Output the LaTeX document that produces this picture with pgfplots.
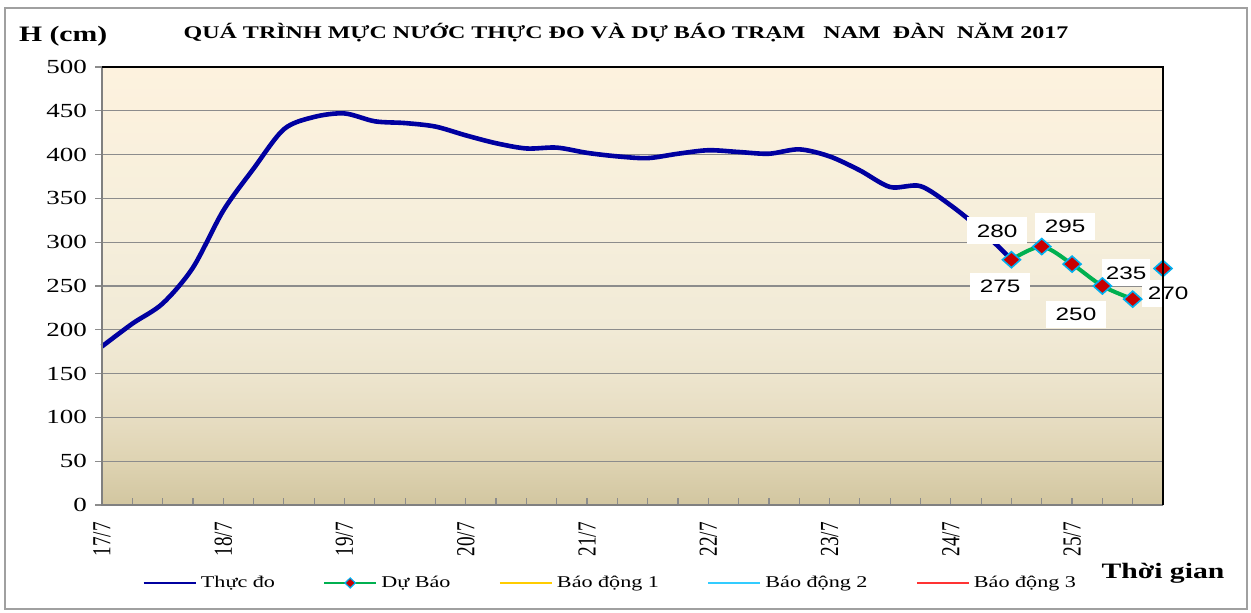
\documentclass[border=0pt]{standalone}
\usepackage{pgfplots}
\pgfplotsset{compat=1.18}
\usepackage{pgfplotstable}
\usepackage{fontspec}
\setmainfont[FakeStretch=1.35]{Liberation Serif}
\newfontfamily\arialfont[FakeStretch=1.35]{Liberation Sans}
\newfontfamily\rotfont[FakeStretch=0.74]{Liberation Serif}
\definecolor{obsblue}{RGB}{0,0,160}
\definecolor{fcgreen}{RGB}{0,176,80}
\definecolor{mred}{RGB}{200,0,0}
\definecolor{mcyan}{RGB}{0,176,240}
\definecolor{bd1}{RGB}{255,204,0}
\definecolor{bd2}{RGB}{51,204,255}
\definecolor{bd3}{RGB}{255,51,51}
\definecolor{gridgray}{RGB}{140,140,140}
\definecolor{axgray}{RGB}{128,128,128}
\definecolor{framegray}{RGB}{160,160,160}
\definecolor{bgA}{RGB}{210,198,160}
\definecolor{bgB}{RGB}{222,211,178}
\definecolor{bgC}{RGB}{231,221,194}
\definecolor{bgD}{RGB}{237,229,206}
\definecolor{bgE}{RGB}{241,234,214}
\definecolor{bgF}{RGB}{245,238,219}
\definecolor{bgG}{RGB}{253,242,222}
\pgfdeclareverticalshading{bgshade}{100bp}{color(0bp)=(bgA); color(25bp)=(bgA); color(30bp)=(bgB); color(35bp)=(bgC); color(40bp)=(bgD); color(45bp)=(bgE); color(55bp)=(bgF); color(75bp)=(bgG); color(100bp)=(bgG)}

\pgfplotstableread{
x y
0 181
1 207
2 230
3 271
4 336
5 384
6 429
7 443
8 447
9 438
10 436
11 432
12 422
13 413
14 407
15 408
16 402
17 398
18 396
19 401
20 405
21 403
22 401
23 406
24 398
25 382
26 363
27 364
28 342
29 314
30 280
}\obsdata

\pgfplotstableread{
x y
30 280
31 295
32 275
33 250
34 235
}\fcdata

\begin{document}
\begin{tikzpicture}
\path[use as bounding box] (0,0) rectangle (625.5pt,306pt);
\draw[framegray, line width=0.6pt] (2.5pt,1.5pt) rectangle (623.5pt,302pt);
\node[anchor=west, font=\bfseries\fontsize{11}{13}\selectfont] at (6pt,288pt) {H (cm)};
\node[font=\bfseries\fontsize{8.9}{11}\selectfont] at (313pt,289.5pt) {QUÁ TRÌNH MỰC NƯỚC THỰC ĐO VÀ DỰ BÁO TRẠM\ \ \ NAM\ \ ĐÀN\ \ NĂM 2017};
\node[font=\bfseries\fontsize{11}{13}\selectfont] at (581.5pt,19.5pt) {Thời gian};
\begin{axis}[
  at={(51pt,53.5pt)}, anchor=south west,
  scale only axis, width=530.5pt, height=219pt,
  xmin=0, xmax=35, ymin=0, ymax=500,
  clip=false,
  axis background/.style={shading=bgshade},
  axis line style={draw=none},
  ytick={0,50,...,500},
  xtick={0,4,...,32},
  xticklabels={17/7,18/7,19/7,20/7,21/7,22/7,23/7,24/7,25/7},
  minor xtick={0,1,...,35},
  xtick pos=bottom, ytick pos=left,
  tick align=inside,
  major tick length=3.5pt, minor tick length=3.5pt,
  ytick style={xshift=-3.5pt, color=gridgray, line width=0.6pt},
  xtick style={color=gridgray, line width=0.6pt},
  ymajorgrids,
  major grid style={color=gridgray, line width=0.6pt},
  yticklabel style={font=\fontsize{10}{12}\selectfont, anchor=east, xshift=-4pt},
  xticklabel style={font=\rotfont\fontsize{13}{13}\selectfont, rotate=90, anchor=east, xshift=-5pt},
  /pgf/number format/assume math mode=true,
  legend image code/.code={\draw[mark repeat=2,mark phase=2,#1] plot coordinates {(0pt,0pt) (13pt,0pt) (26pt,0pt)};},
  legend style={at={(0.48,-0.178)}, anchor=center, draw=none, fill=none,
    legend columns=5, font=\fontsize{8.2}{10}\selectfont,
    /tikz/every even column/.append style={column sep=22pt}},
  after end axis/.code={
    \draw[axgray, line width=1pt] (rel axis cs:0,1) -- (rel axis cs:0,0) -- (rel axis cs:1,0);
    \draw[black, line width=1pt] (rel axis cs:0,1) -- (rel axis cs:1,1) -- (rel axis cs:1,0);
  },
]
\addplot[forget plot, obsblue, line width=2.3pt, smooth, tension=0.5] table[x=x,y=y] {\obsdata};
\addplot[forget plot, fcgreen, line width=2pt, smooth, tension=0.5, mark=diamond*, mark size=4pt,
  mark options={fill=mred, draw=mcyan, line width=0.8pt, xscale=1.5, solid}] table[x=x,y=y] {\fcdata};
\addplot[forget plot, only marks, mark=diamond*, mark size=4pt,
  mark options={fill=mred, draw=mcyan, line width=0.8pt, xscale=1.5}] coordinates {(35,270)};
\addlegendimage{obsblue, line width=1.2pt}
\addlegendentry{Thực đo}
\addlegendimage{fcgreen, line width=1.2pt, mark=diamond*, mark size=2.5pt, mark options={fill=mred, draw=mcyan, line width=0.6pt, xscale=1.4}}
\addlegendentry{Dự Báo}
\addlegendimage{bd1, line width=1.2pt}
\addlegendentry{Báo động 1}
\addlegendimage{bd2, line width=1.2pt}
\addlegendentry{Báo động 2}
\addlegendimage{bd3, line width=1.2pt}
\addlegendentry{Báo động 3}
\tikzset{lbl/.style={fill=white, inner sep=0pt, minimum width=30pt, minimum height=13.5pt, font=\arialfont\fontsize{9}{10}\selectfont}}
\node[lbl] at (axis cs:29.53,312.8) {280};
\node[lbl] at (axis cs:29.63,250) {275};
\node[lbl] at (axis cs:31.77,318.5) {295};
\node[lbl] at (axis cs:32.13,218) {250};
\node[lbl, minimum width=24pt] at (axis cs:33.78,265) {235};
\node[lbl, minimum width=26pt] at (axis cs:35.17,242) {270};
\end{axis}
\end{tikzpicture}
\end{document}
